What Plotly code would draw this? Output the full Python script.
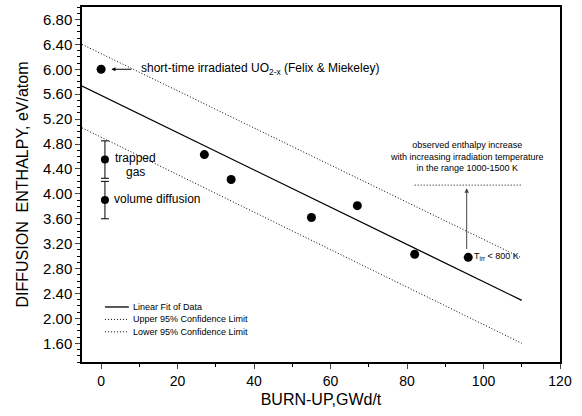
import plotly.graph_objects as go

# data
burnup = [0, 27, 34, 55, 67, 82, 96]
enthalpy = [6.00, 4.63, 4.23, 3.62, 3.81, 3.03, 2.98]

lit_x = [1, 1]
lit_y = [4.55, 3.90]
lit_err = [0.30, 0.30]

fit_x = [-5, 110]
fit_y = [5.73, 2.29]
upper_x = [-5, 110]
upper_y = [6.40, 2.97]
lower_x = [-5, 110]
lower_y = [5.06, 1.60]

range_x = [82, 110]
range_y = [4.14, 4.14]

legend_names = ["Linear Fit of Data", "Upper 95% Confidence Limit", "Lower 95% Confidence Limit"]

FONT = "Liberation Sans, Arial, sans-serif"
DOT = "1px,2px"

fig = go.Figure()
fig.add_trace(go.Scatter(x=fit_x, y=fit_y, mode="lines", name=legend_names[0],
                         line=dict(color="black", width=1.3)))
fig.add_trace(go.Scatter(x=upper_x, y=upper_y, mode="lines", name=legend_names[1],
                         line=dict(color="black", width=1, dash=DOT)))
fig.add_trace(go.Scatter(x=lower_x, y=lower_y, mode="lines", name=legend_names[2],
                         line=dict(color="black", width=1, dash=DOT)))
fig.add_trace(go.Scatter(x=range_x, y=range_y, mode="lines",
                         line=dict(color="black", width=1, dash=DOT)))
fig.add_trace(go.Scatter(x=burnup, y=enthalpy, mode="markers",
                         marker=dict(color="black", size=9)))
fig.add_trace(go.Scatter(x=lit_x, y=lit_y, mode="markers",
                         marker=dict(color="black", size=8),
                         error_y=dict(type="data", array=lit_err, color="black",
                                      thickness=1, width=4)))

ann_font = dict(family=FONT, size=12, color="black")
small_font = dict(family=FONT, size=9, color="black")

annotations = [
    dict(x=2.7, y=6.00, ax=8.3, ay=6.00, xref="x", yref="y", axref="x", ayref="y",
         text="", showarrow=True, arrowhead=2, arrowsize=0.8, arrowwidth=1, arrowcolor="black"),
    dict(x=10, y=6.00, xref="x", yref="y", text="short-time irradiated UO<sub>2-x</sub> (Felix & Miekeley)",
         showarrow=False, xanchor="left", yanchor="middle", font=ann_font),
    dict(x=3.0, y=4.58, xref="x", yref="y", text="trapped", showarrow=False,
         xanchor="left", yanchor="middle", font=ann_font),
    dict(x=6.1, y=4.35, xref="x", yref="y", text="gas", showarrow=False,
         xanchor="left", yanchor="middle", font=ann_font),
    dict(x=2.8, y=3.91, xref="x", yref="y", text="volume diffusion", showarrow=False,
         xanchor="left", yanchor="middle", font=ann_font),
    dict(x=95.6, y=4.60, xref="x", yref="y",
         text="observed enthalpy increase<br>with increasing irradiation temperature<br>in the range 1000-1500 K",
         showarrow=False, xanchor="center", yanchor="middle", align="center", font=small_font),
    dict(x=97.0, y=2.99, xref="x", yref="y", text="T<sub>irr</sub> < 800 K", showarrow=False,
         xanchor="left", yanchor="middle", font=small_font),
    dict(x=95.6, y=4.09, ax=95.6, ay=3.09, xref="x", yref="y", axref="x", ayref="y",
         text="", showarrow=True, arrowhead=2, arrowsize=0.9, arrowwidth=1, arrowcolor="#444"),
]

# hand-made legend (paper coordinates of the plotting area)
shapes = []
leg_y = [0.155, 0.12, 0.085]
leg_dash = ["solid", DOT, DOT]
for name, dash, ly in zip(legend_names, leg_dash, leg_y):
    shapes.append(dict(type="line", xref="paper", yref="paper", x0=0.048, x1=0.098, y0=ly, y1=ly,
                       line=dict(color="black", width=1.3 if dash == "solid" else 1, dash=dash)))
    annotations.append(dict(x=0.1025, y=ly, xref="paper", yref="paper", text=name, showarrow=False,
                            xanchor="left", yanchor="middle", font=small_font))

fig.update_layout(
    width=582, height=416,
    margin=dict(l=82, r=22, t=7, b=54, autoexpand=False),
    paper_bgcolor="white", plot_bgcolor="white",
    font=dict(family=FONT, color="black"),
    annotations=annotations,
    shapes=shapes,
    showlegend=False,
)
fig.update_xaxes(
    range=[-5, 120], tick0=0, dtick=20, ticks="outside", ticklen=5, tickwidth=1,
    showline=True, linecolor="black", linewidth=1.5, mirror=True,
    showgrid=False, zeroline=False, automargin=False,
    tickfont=dict(family=FONT, size=14, color="black"),
    minor=dict(dtick=10, ticks="outside", ticklen=3, tickcolor="black"),
    title=dict(text="BURN-UP,GWd/t", font=dict(family=FONT, size=16, color="black"), standoff=6),
)
fig.update_yaxes(
    range=[1.3, 7.0], tick0=1.6, dtick=0.4, tickformat=".2f", ticks="outside", ticklen=5, tickwidth=1,
    showline=True, linecolor="black", linewidth=1.5, mirror=True,
    showgrid=False, zeroline=False, automargin=False,
    tickfont=dict(family=FONT, size=15, color="black"),
    minor=dict(dtick=0.1, ticks="outside", ticklen=3, tickcolor="black"),
    title=dict(text="DIFFUSION  ENTHALPY, eV/atom", font=dict(family=FONT, size=16, color="black"), standoff=10),
)

fig.write_html("out.html", config={"displayModeBar": False},
               post_script="document.body.style.margin='0';document.body.style.padding='0';")
